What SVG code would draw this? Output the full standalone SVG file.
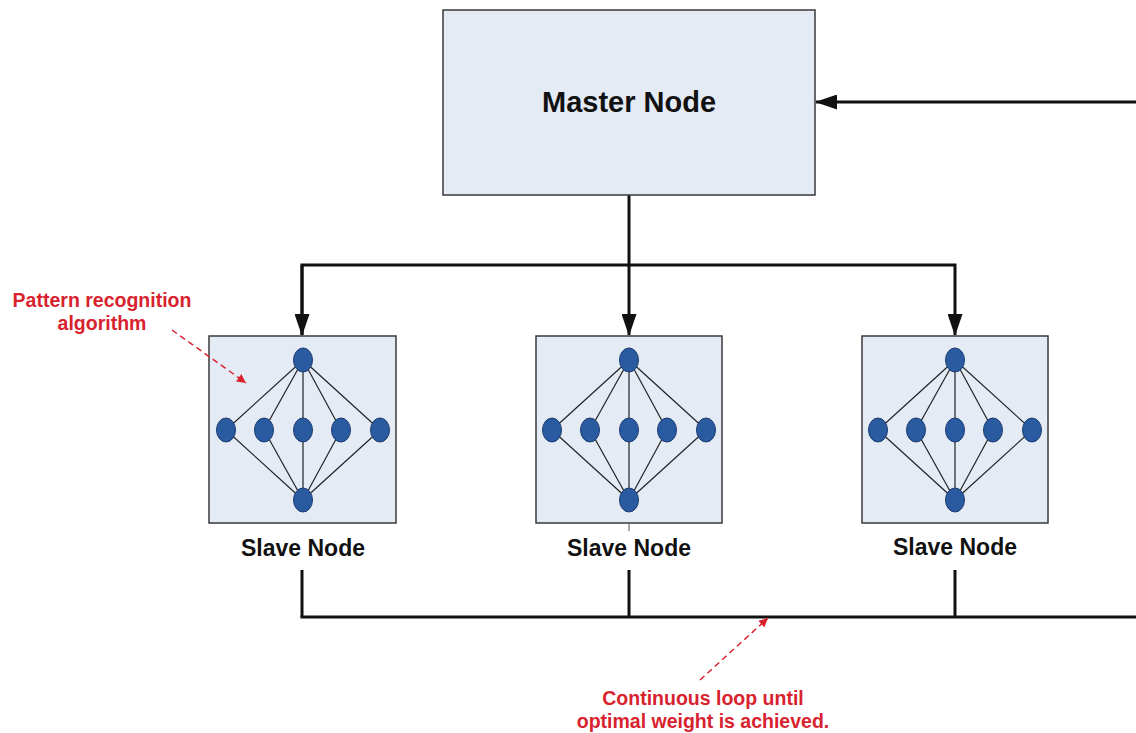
<svg xmlns="http://www.w3.org/2000/svg" width="1136" height="733" viewBox="0 0 1136 733">
  <defs>
    <style>
      .box { fill: #e4ebf5; stroke: #3a3a3a; stroke-width: 1.5; }
      .wire { fill: none; stroke: #111; stroke-width: 3; }
      .link { stroke: #222; stroke-width: 1.2; }
      .unit { fill: #2a5aa0; stroke: #1c3b6e; stroke-width: 1; }
      .label { font-family: "Liberation Sans", Arial, sans-serif; font-weight: bold; fill: #111; text-anchor: middle; }
      .note { font-family: "Liberation Sans", Arial, sans-serif; font-weight: bold; fill: #d8232f; text-anchor: middle; font-size: 19.5px; }
      .pointer { fill: none; stroke: #d8232f; stroke-width: 1.5; stroke-dasharray: 6 4; }
    </style>
    <marker id="arrow" viewBox="0 0 22 15" refX="21" refY="7.5" markerWidth="22" markerHeight="15" markerUnits="userSpaceOnUse" orient="auto">
      <path d="M0,0 L22,7.5 L0,15 z" fill="#111"/>
    </marker>
    <marker id="redArrow" viewBox="0 0 10 10" refX="10" refY="5" markerWidth="10" markerHeight="9" markerUnits="userSpaceOnUse" orient="auto">
      <path d="M0,0 L10,5 L0,10 z" fill="#d8232f"/>
    </marker>
    <!-- one small network: input, hidden layer of five, output -->
    <g id="net">
      <g class="link">
        <line x1="0" y1="-70" x2="-77" y2="0"/>
        <line x1="0" y1="-70" x2="-39" y2="0"/>
        <line x1="0" y1="-70" x2="0" y2="0"/>
        <line x1="0" y1="-70" x2="38" y2="0"/>
        <line x1="0" y1="-70" x2="77" y2="0"/>
        <line x1="0" y1="70" x2="-77" y2="0"/>
        <line x1="0" y1="70" x2="-39" y2="0"/>
        <line x1="0" y1="70" x2="0" y2="0"/>
        <line x1="0" y1="70" x2="38" y2="0"/>
        <line x1="0" y1="70" x2="77" y2="0"/>
      </g>
      <ellipse class="unit" cx="0" cy="-70" rx="9.5" ry="12"/>
      <ellipse class="unit" cx="-77" cy="0" rx="9.5" ry="12"/>
      <ellipse class="unit" cx="-39" cy="0" rx="9.5" ry="12"/>
      <ellipse class="unit" cx="0" cy="0" rx="9.5" ry="12"/>
      <ellipse class="unit" cx="38" cy="0" rx="9.5" ry="12"/>
      <ellipse class="unit" cx="77" cy="0" rx="9.5" ry="12"/>
      <ellipse class="unit" cx="0" cy="70" rx="9.5" ry="12"/>
    </g>
  </defs>

  <rect width="1136" height="733" fill="#fff"/>

  <g id="connectors">
    <!-- feedback into master, entering from the right edge -->
    <line class="wire" x1="1136" y1="102" x2="816" y2="102" marker-end="url(#arrow)"/>
    <!-- distribution to slaves -->
    <line class="wire" x1="629" y1="195" x2="629" y2="335" marker-end="url(#arrow)"/>
    <polyline class="wire" points="302,335 302,265 955,265 955,335" marker-end="url(#arrow)"/>
    <line class="wire" x1="302" y1="265" x2="302" y2="335" marker-end="url(#arrow)"/>
    <!-- collection from slaves, leaving at the right edge -->
    <line class="wire" x1="302" y1="570" x2="302" y2="617"/>
    <line class="wire" x1="629" y1="570" x2="629" y2="617"/>
    <line class="wire" x1="955" y1="570" x2="955" y2="617"/>
    <line class="wire" x1="300.5" y1="617" x2="1136" y2="617"/>
    <line x1="629" y1="523" x2="629" y2="531" stroke="#555" stroke-width="1"/>
  </g>

  <g id="master">
    <rect class="box" x="443" y="10" width="372" height="185"/>
    <text class="label" x="629" y="112" font-size="29">Master Node</text>
  </g>

  <g id="slave1">
    <rect class="box" x="209" y="336" width="187" height="187"/>
    <use href="#net" x="303" y="430"/>
    <text class="label" x="303" y="556" font-size="23">Slave Node</text>
  </g>

  <g id="slave2">
    <rect class="box" x="536" y="336" width="186" height="187"/>
    <use href="#net" x="629" y="430"/>
    <text class="label" x="629" y="556" font-size="23">Slave Node</text>
  </g>

  <g id="slave3">
    <rect class="box" x="862" y="336" width="186" height="187"/>
    <use href="#net" x="955" y="430"/>
    <text class="label" x="955" y="555" font-size="23">Slave Node</text>
  </g>

  <g id="note-algorithm">
    <text class="note" x="102" y="307">Pattern recognition</text>
    <text class="note" x="102" y="330">algorithm</text>
    <line class="pointer" x1="172" y1="330" x2="246" y2="383" marker-end="url(#redArrow)"/>
  </g>

  <g id="note-loop">
    <line class="pointer" x1="700" y1="680" x2="768" y2="618" marker-end="url(#redArrow)"/>
    <text class="note" x="703" y="705">Continuous loop until</text>
    <text class="note" x="703" y="728">optimal weight is achieved.</text>
  </g>
</svg>
